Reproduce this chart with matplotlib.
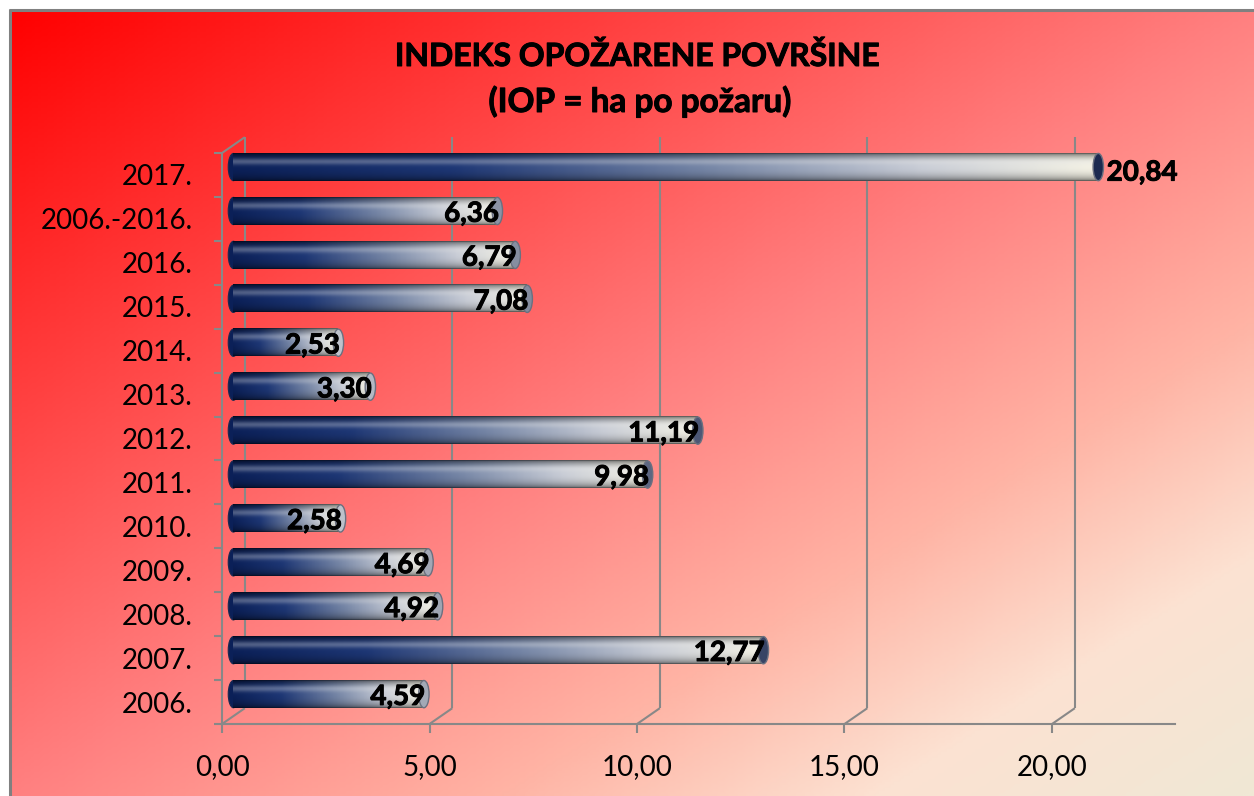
import numpy as np
import matplotlib
matplotlib.use('Agg')
import matplotlib.pyplot as plt
import matplotlib.patheffects as pe
from matplotlib.colors import LinearSegmentedColormap, to_rgb
from matplotlib.patches import Ellipse

# podaci s grafikona
categories = ['2006.', '2007.', '2008.', '2009.', '2010.', '2011.', '2012.',
              '2013.', '2014.', '2015.', '2016.', '2006.-2016.', '2017.']
values = [4.59, 12.77, 4.92, 4.69, 2.58, 9.98, 11.19, 3.30, 2.53, 7.08, 6.79, 6.36, 20.84]
x_ticks = [0, 5, 10, 15, 20]
x_tick_labels = ['0,00', '5,00', '10,00', '15,00', '20,00']
title_lines = ['INDEKS OPOŽARENE POVRŠINE', '(IOP = ha po požaru)']

W, H = 1254, 796
DEPTH_X = 0.55   # 3D dubina u jedinicama x osi
DEPTH_Y = 0.36   # 3D dubina u jedinicama kategorija
BAR_H = 0.62
CAP_W = 0.25
GRID = '#888888'

bg_cmap = LinearSegmentedColormap.from_list(
    'bg', [(0, '#ff0000'), (0.5, '#ff8080'), (0.7, '#ffb4a5'),
           (0.85, '#fce2d2'), (1, '#f0e8d5')])
bar_cmap = LinearSegmentedColormap.from_list(
    'bar', [(0, '#0b2058'), (0.25, '#1d3674'), (0.55, '#7686a6'),
            (0.8, '#c9cdd6'), (1, '#f3f1e4')])


def draw_background(fig):
    """gradijentna pozadina i okvir"""
    bg = fig.add_axes([0, 0, 1, 1], zorder=-10)
    bg.set_xlim(0, W)
    bg.set_ylim(H, 0)
    bg.axis('off')
    xs = np.linspace(0, 1, 400)
    ys = np.linspace(0, 1, 260)
    t = (xs[None, :] + ys[:, None]) / 2
    bg.imshow(bg_cmap(t), extent=(9, W, H, 10), aspect='auto', interpolation='bilinear')
    bg.plot([9.5, 9.5], [H, 9], color='#808080', lw=2.2, solid_capstyle='butt')
    bg.plot([8.5, W], [10, 10], color='#808080', lw=2.2, solid_capstyle='butt')


def cylinder_image(n=200, m=40):
    """sjencanje valjka"""
    t = np.linspace(0, 1, n)
    s = np.linspace(0, 1, m)
    base = bar_cmap(t)[:, :3]
    shade = 0.35 + 0.65 * np.sin(np.pi * s) ** 0.45
    glow = 0.28 * np.exp(-((s - 0.3) / 0.12) ** 2)
    img = base[None, :, :] * shade[:, None, None]
    img = img + (1 - img) * glow[:, None, None]
    return np.clip(img, 0, 1)


def draw_walls(ax, n):
    """zidovi i linije mreze u 3D perspektivi"""
    y_lo, y_hi = -0.5, n - 0.5
    kw = dict(color=GRID, lw=1.5, zorder=1, solid_capstyle='butt')
    for v in x_ticks:
        ax.plot([v + DEPTH_X] * 2, [y_lo + DEPTH_Y, y_hi + DEPTH_Y], **kw)
        ax.plot([v, v + DEPTH_X], [y_lo, y_lo + DEPTH_Y], **kw)
    ax.plot([0, DEPTH_X], [y_hi, y_hi + DEPTH_Y], **kw)


def main():
    plt.rcParams['font.family'] = ['Lato', 'DejaVu Sans']

    fig = plt.figure(figsize=(W / 100, H / 100), dpi=100)
    draw_background(fig)

    n = len(values)
    unit_y = 571 / n
    ax = fig.add_axes([222 / W, (H - 724) / H, 953 / W, (n + 0.5) * unit_y / H])
    ax.set_facecolor('none')

    draw_walls(ax, n)

    img = cylinder_image()
    pos = np.arange(n) + DEPTH_Y / 2
    bars = ax.barh(pos, values, height=BAR_H, left=DEPTH_X / 2,
                   color='none', edgecolor='none', zorder=3)
    vmax = max(values)
    bold = [pe.withStroke(linewidth=0.7, foreground='black')]
    for bar, v in zip(bars, values):
        x0, y0 = bar.get_x(), bar.get_y()
        w, h = bar.get_width(), bar.get_height()
        yc = y0 + h / 2
        ax.add_patch(Ellipse((x0, yc), CAP_W, h, facecolor='#0b2058',
                             edgecolor='#1a2a50', lw=0.8, zorder=2.5))
        ax.imshow(img, extent=(x0, x0 + w, y0, y0 + h), aspect='auto',
                  interpolation='bilinear', zorder=3)
        k = min(v / vmax * 1.4, 1)
        cap = (1 - k) * np.array(to_rgb('#dfe1e4')) + k * np.array(to_rgb('#1c2a50'))
        ax.add_patch(Ellipse((x0 + w, yc), CAP_W, h, facecolor=cap,
                             edgecolor='#6a7080', lw=1, zorder=3.5))
        label = f'{v:.2f}'.replace('.', ',')
        if v == vmax:
            ax.annotate(label, (x0 + w, yc), xytext=(6, -4), textcoords='offset points',
                        ha='left', va='center', fontsize=20, fontweight='bold',
                        zorder=5, path_effects=bold)
        else:
            ax.annotate(label, (x0 + w, yc), xytext=(1, -2), textcoords='offset points',
                        ha='right', va='center', fontsize=20, fontweight='bold',
                        zorder=5, path_effects=bold)

    ax.set_xlim(0, 953 / 41.5)
    ax.set_ylim(-0.5, n)

    for side in ['top', 'right']:
        ax.spines[side].set_visible(False)
    for side in ['left', 'bottom']:
        ax.spines[side].set_color(GRID)
        ax.spines[side].set_linewidth(1.5)
        ax.spines[side].set_zorder(1)
    ax.spines['left'].set_bounds(-0.5, n - 0.5)

    ax.set_xticks(x_ticks)
    ax.set_xticklabels(x_tick_labels)
    ax.set_yticks(np.arange(n))
    ax.set_yticklabels(categories)
    ax.set_yticks(np.arange(n + 1) - 0.5, minor=True)
    ax.tick_params(axis='x', length=6.5, width=1.5, color=GRID, pad=15, labelsize=20)
    ax.tick_params(axis='y', which='major', length=0, pad=21, labelsize=20)
    ax.tick_params(axis='y', which='minor', length=6, width=1.5, color=GRID)

    # naslov
    fig.text(638 / W, 1 - 66 / H, title_lines[0], ha='center', va='baseline',
             fontsize=23, fontweight='bold', path_effects=bold)
    fig.text(640 / W, 1 - 112 / H, title_lines[1], ha='center', va='baseline',
             fontsize=24, fontweight='bold', path_effects=bold)

    fig.savefig('out.png', dpi=100)


if __name__ == '__main__':
    main()
